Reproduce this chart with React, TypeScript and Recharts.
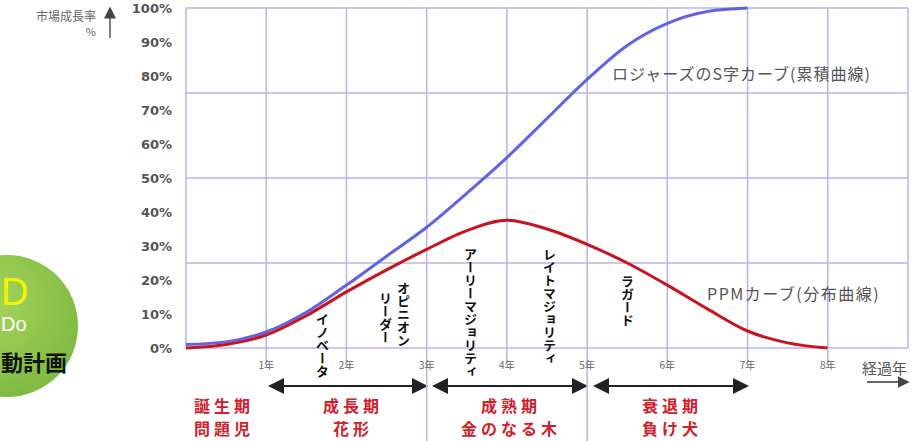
import React from "react";
import { CartesianGrid, Line, LineChart, XAxis, YAxis } from "recharts";

// 経過年（0.5年刻み）
const years = [0, 0.5, 1, 1.5, 2, 2.5, 3, 3.5, 4, 4.5, 5, 5.5, 6, 6.5, 7, 7.5, 8];
// ロジャーズのS字カーブ（累積）%
const rogers = [1, 1.8, 4.7, 10.5, 18.5, 27, 35.5, 45.5, 56, 67.5, 79, 89, 95.5, 99, 100, null, null];
// PPMカーブ（分布）%
const ppm = [0, 1, 3.8, 9.5, 16.5, 23, 29, 34.5, 37.6, 35, 30.5, 25, 18.5, 11.5, 5, 1.5, 0];

const yTicks = [0, 10, 20, 30, 40, 50, 60, 70, 80, 90, 100];
const yearTicks = [1, 2, 3, 4, 5, 6, 7, 8];
const gridYears = [0, 1, 2, 3, 4, 5, 6, 7, 8, 9];
const gridPercents = [0, 25, 50, 75, 100];

const phases = [
  { top: "誕生期", bottom: "問題児", cx: 222 },
  { top: "成長期", bottom: "花形", cx: 351 },
  { top: "成熟期", bottom: "金のなる木", cx: 509 },
  { top: "衰退期", bottom: "負け犬", cx: 670 },
];

const adopters = [
  { label: "イノベータ", cx: 322, top: 313 },
  { label: "オピニオン", cx: 403, top: 282 },
  { label: "リーダー", cx: 385, top: 292 },
  { label: "アーリーマジョリティ", cx: 470, top: 248 },
  { label: "レイトマジョリティ", cx: 549, top: 248 },
  { label: "ラガード", cx: 627, top: 275 },
];

const data = years.map((y, i) => ({ year: y, rogers: rogers[i], ppm: ppm[i] }));

const GRID = "#b4b4ee";
const JP = '"Noto Sans CJK JP", "Noto Sans", sans-serif';

const YearTick = (props: any) => {
  const { x, y, payload } = props;
  const long = payload.value === 3 || payload.value === 5;
  return (
    <g>
      <line x1={x} y1={y} x2={x} y2={long ? 441 : y + 15} stroke={GRID} strokeWidth={1.5} />
      <text x={x} y={y + 21} textAnchor="middle" fontSize={10} fill="#666" fontFamily={JP}>
        {payload.value}年
      </text>
    </g>
  );
};

const phaseStyle = (cx: number, top: number): React.CSSProperties => ({
  position: "absolute",
  left: cx - 70,
  top,
  width: 140,
  textAlign: "center",
  color: "#d0202a",
  fontSize: 16,
  fontWeight: 700,
  letterSpacing: 4,
  lineHeight: "20px",
});

export default function App() {
  return (
    <div
      style={{
        position: "absolute",
        left: 0,
        top: 0,
        width: 924,
        height: 441,
        overflow: "hidden",
        background: "#fff",
        fontFamily: JP,
      }}
    >
      <svg width={924} height={441} style={{ position: "absolute", left: 0, top: 0 }}>
        <defs>
          <radialGradient id="ball" cx="40%" cy="35%" r="70%">
            <stop offset="0%" stopColor="#a6d45c" />
            <stop offset="100%" stopColor="#7eb940" />
          </radialGradient>
          <marker id="ah" markerWidth="8" markerHeight="8" refX="7" refY="4" orient="auto-start-reverse">
            <path d="M0,0 L8,4 L0,8 z" fill="#222" />
          </marker>
          <marker id="ahg" markerWidth="8" markerHeight="8" refX="7" refY="4" orient="auto-start-reverse">
            <path d="M0,0 L8,4 L0,8 z" fill="#444" />
          </marker>
        </defs>
        <circle cx={7} cy={326} r={71} fill="url(#ball)" />
        <line x1={110} y1={38} x2={110} y2={8} stroke="#555" strokeWidth={1.5} markerEnd="url(#ahg)" />
        <line x1={270} y1={386} x2={426} y2={386} stroke="#222" strokeWidth={2} markerStart="url(#ah)" markerEnd="url(#ah)" />
        <line x1={434} y1={386} x2={586} y2={386} stroke="#222" strokeWidth={2} markerStart="url(#ah)" markerEnd="url(#ah)" />
        <line x1={595} y1={386} x2={747} y2={386} stroke="#222" strokeWidth={2} markerStart="url(#ah)" markerEnd="url(#ah)" />
        <line x1={867} y1={382} x2={908} y2={382} stroke="#333" strokeWidth={1.5} markerEnd="url(#ahg)" />
      </svg>

      <div style={{ position: "absolute", left: 0, top: 0 }}>
        <LineChart width={924} height={441} data={data} margin={{ top: 8, right: 16, left: 126, bottom: 63 }}>
          <CartesianGrid
            stroke={GRID}
            strokeWidth={1.5}
            horizontalValues={gridPercents}
            verticalValues={gridYears}
          />
          <XAxis
            dataKey="year"
            type="number"
            domain={[0, 9]}
            ticks={yearTicks}
            axisLine={false}
            tickLine={false}
            tickSize={0}
            tickMargin={0}
            height={30}
            tick={YearTick}
            interval={0}
          />
          <YAxis
            type="number"
            domain={[0, 100]}
            ticks={yTicks}
            width={60}
            axisLine={false}
            tickLine={false}
            tickSize={0}
            tickMargin={14}
            interval={0}
            tickFormatter={(v) => `${v}%`}
            tick={{ fontSize: 13, fill: "#555", fontWeight: 600, fontFamily: "DejaVu Sans" }}
          />
          <Line
            type="monotone"
            dataKey="rogers"
            stroke="#6262e6"
            strokeWidth={3}
            dot={false}
            isAnimationActive={false}
          />
          <Line
            type="monotone"
            dataKey="ppm"
            stroke="#c8141e"
            strokeWidth={3}
            dot={false}
            isAnimationActive={false}
          />
        </LineChart>
      </div>

      {/* 軸ラベル */}
      <div style={{ position: "absolute", right: 924 - 96, top: 8, fontSize: 12, color: "#666", textAlign: "right", lineHeight: "15px" }}>
        市場成長率
        <br />
        <span style={{ fontSize: 11 }}>%</span>
      </div>
      <div style={{ position: "absolute", left: 862, top: 358, fontSize: 15, color: "#555", lineHeight: "20px" }}>
        経過年
      </div>

      {/* 曲線の名前 */}
      <div style={{ position: "absolute", left: 612, top: 62, fontSize: 16, color: "#555", letterSpacing: 1, lineHeight: "22px", whiteSpace: "nowrap" }}>
        ロジャーズのS字カーブ(累積曲線)
      </div>
      <div style={{ position: "absolute", left: 707, top: 282, fontSize: 16, color: "#555", letterSpacing: 1.5, lineHeight: "22px", whiteSpace: "nowrap" }}>
        PPMカーブ(分布曲線)
      </div>

      {/* 採用者区分 */}
      {adopters.map((a) => (
        <div
          key={a.label}
          style={{
            position: "absolute",
            left: a.cx - 8,
            top: a.top,
            width: 16,
            writingMode: "vertical-rl",
            textOrientation: "upright",
            fontSize: 13,
            fontWeight: 700,
            color: "#111",
            lineHeight: "16px",
            letterSpacing: 0,
          }}
        >
          {a.label}
        </div>
      ))}

      {/* ライフサイクル */}
      {phases.map((p) => (
        <React.Fragment key={p.top}>
          <div style={phaseStyle(p.cx + 2, 395)}>{p.top}</div>
          <div style={phaseStyle(p.cx + 2, 418)}>{p.bottom}</div>
        </React.Fragment>
      ))}

      {/* 左の丸 */}
      <div style={{ position: "absolute", left: 1, top: 272, fontSize: 38, color: "#f4f400", fontFamily: "Liberation Sans", lineHeight: "40px" }}>
        D
      </div>
      <div style={{ position: "absolute", left: 1, top: 312, fontSize: 20, color: "#fff", fontFamily: "Liberation Sans", lineHeight: "24px" }}>
        Do
      </div>
      <div style={{ position: "absolute", left: 1, top: 346, fontSize: 22, fontWeight: 700, color: "#111", lineHeight: "30px", whiteSpace: "nowrap" }}>
        動計画
      </div>
    </div>
  );
}
